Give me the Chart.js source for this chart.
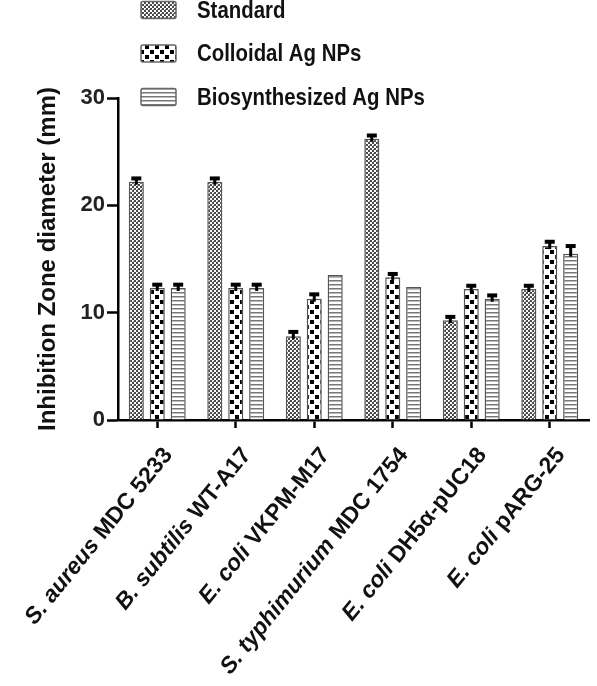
<!DOCTYPE html>
<html>
<head>
<meta charset="utf-8">
<script src="https://cdn.jsdelivr.net/npm/chart.js@4.4.1/dist/chart.umd.min.js"></script>
<style>
html, body { margin: 0; padding: 0; background: #fff; }
</style>
</head>
<body>
<canvas id="zoneChart" width="597" height="686"></canvas>
<script>
// Strains on the x axis (species part is set in italics)
var species = ['S. aureus', 'B. subtilis', 'E. coli', 'S. typhimurium', 'E. coli', 'E. coli'];
var strains = ['MDC 5233', 'WT-A17', 'VKPM-M17', 'MDC 1754', 'DH5\u03b1-pUC18', 'pARG-25'];

// Series
var seriesNames = ['Standard', 'Colloidal Ag NPs', 'Biosynthesized Ag NPs'];
var standard = [22.2, 22.2, 7.8, 26.2, 9.3, 12.2];
var colloidal = [12.3, 12.3, 11.3, 13.3, 12.2, 16.2];
var biosynth = [12.3, 12.3, 13.5, 12.4, 11.3, 15.5];
var standardErr = [0.4, 0.4, 0.5, 0.4, 0.4, 0.4];
var colloidalErr = [0.4, 0.4, 0.5, 0.4, 0.4, 0.5];
var biosynthErr = [0.4, 0.4, 0, 0, 0.4, 0.8];

// Y axis
var yTicks = [0, 10, 20, 30];

var FONT = '"Liberation Sans", Arial, sans-serif';
Chart.defaults.font.family = FONT;

var canvas = document.getElementById('zoneChart');
var ctx = canvas.getContext('2d');

// Fill patterns, like the GraphPad hatching
function makePattern(size, draw) {
    var c = document.createElement('canvas');
    c.width = size;
    c.height = size;
    var g = c.getContext('2d');
    g.fillStyle = '#fff';
    g.fillRect(0, 0, size, size);
    draw(g);
    return ctx.createPattern(c, 'repeat');
}

var finePattern = makePattern(4, function(g) {
    g.fillStyle = '#4a4a4a';
    g.fillRect(2, 0, 2, 2);
    g.fillRect(0, 2, 2, 2);
    g.fillStyle = '#999';
    g.fillRect(1, 1, 1, 1);
});

var checkPattern = makePattern(10, function(g) {
    g.fillStyle = '#000';
    g.fillRect(0, 0, 4, 4);
    g.fillRect(5, 5, 4, 4);
});

var linePattern = makePattern(4, function(g) {
    g.fillStyle = '#777';
    g.fillRect(0, 0, 4, 1);
    g.fillStyle = '#bbb';
    g.fillRect(0, 1, 4, 1);
});

// Error bars (upper side only)
var errorBarPlugin = {
    id: 'errorBars',
    afterDatasetsDraw: function(chart) {
        var c = chart.ctx;
        var ys = chart.scales.y;
        chart.data.datasets.forEach(function(ds, i) {
            var meta = chart.getDatasetMeta(i);
            meta.data.forEach(function(bar, j) {
                var err = ds.errors[j];
                if (!err) return;
                var top = ys.getPixelForValue(ds.data[j] + err);
                c.save();
                c.strokeStyle = '#000';
                c.lineWidth = 3;
                c.beginPath();
                c.moveTo(bar.x, bar.y + 3);
                c.lineTo(bar.x, top);
                c.stroke();
                c.fillStyle = '#000';
                c.fillRect(bar.x - 5, top - 1, 10, 4);
                c.restore();
            });
        });
    }
};

// Legend stacked at the top
var legendPlugin = {
    id: 'stackLegend',
    afterDraw: function(chart) {
        var c = chart.ctx;
        chart.data.datasets.forEach(function(ds, i) {
            var cy = 10 + i * 43.5;
            c.save();
            c.fillStyle = ds.backgroundColor;
            c.strokeStyle = '#666';
            c.lineWidth = 1.5;
            c.beginPath();
            c.roundRect(141, cy - 8.5, 35, 17, 2);
            c.fill();
            c.stroke();
            c.fillStyle = '#111';
            c.font = 'bold 24px ' + FONT;
            c.textBaseline = 'middle';
            c.translate(197, cy + 1);
            c.scale(0.85, 1);
            c.fillText(ds.label, 0, 0);
            c.restore();
        });
    }
};

// Rotated category labels with italic species names
var strainLabelPlugin = {
    id: 'strainLabels',
    afterDraw: function(chart) {
        var c = chart.ctx;
        var xs = chart.scales.x;
        var bottom = chart.chartArea.bottom;
        var italic = 'italic bold 23px ' + FONT;
        var upright = 'bold 23px ' + FONT;
        species.forEach(function(name, i) {
            var cx = xs.getPixelForValue(i);
            c.save();
            c.translate(cx + 11, bottom + 31);
            c.rotate(-51 * Math.PI / 180);
            c.textBaseline = 'middle';
            c.textAlign = 'left';
            c.fillStyle = '#111';
            c.font = upright;
            var w2 = c.measureText(strains[i]).width;
            c.font = italic;
            var w1 = c.measureText(name + ' ').width;
            c.fillText(name + ' ', -w1 - w2, 0);
            c.font = upright;
            c.fillText(strains[i], -w2, 0);
            c.restore();
        });
    }
};

new Chart(ctx, {
    type: 'bar',
    data: {
        labels: species.map(function(s, i) { return s + ' ' + strains[i]; }),
        datasets: [
            { label: seriesNames[0], data: standard, errors: standardErr, backgroundColor: finePattern },
            { label: seriesNames[1], data: colloidal, errors: colloidalErr, backgroundColor: checkPattern },
            { label: seriesNames[2], data: biosynth, errors: biosynthErr, backgroundColor: linePattern }
        ]
    },
    options: {
        responsive: false,
        animation: false,
        layout: { padding: { top: 98, right: 8, left: 0, bottom: 0 } },
        datasets: {
            bar: {
                categoryPercentage: 0.8,
                barPercentage: 0.72,
                borderColor: '#555',
                borderWidth: 1.5,
                borderSkipped: 'bottom'
            }
        },
        plugins: {
            legend: { display: false },
            tooltip: { enabled: false }
        },
        scales: {
            x: {
                grid: { drawOnChartArea: false, offset: false, tickLength: 8, tickColor: '#000', tickWidth: 2.5 },
                border: { color: '#000', width: 2.5 },
                ticks: { display: false },
                afterFit: function(scale) { scale.height = 266; }
            },
            y: {
                min: 0,
                max: 30,
                afterBuildTicks: function(scale) {
                    scale.ticks = yTicks.map(function(v) { return { value: v }; });
                },
                grid: { drawOnChartArea: false, tickLength: 11, tickColor: '#000', tickWidth: 2.5 },
                border: { color: '#000', width: 2.5 },
                ticks: { color: '#222', padding: 2, font: { size: 22, weight: 'bold' } },
                title: {
                    display: true,
                    text: 'Inhibition Zone diameter (mm)',
                    color: '#111',
                    font: { size: 24, weight: 'bold' },
                    padding: { top: 34, bottom: 0 }
                },
                afterFit: function(scale) { scale.width = 118; }
            }
        }
    },
    plugins: [errorBarPlugin, legendPlugin, strainLabelPlugin]
});
</script>
</body>
</html>
